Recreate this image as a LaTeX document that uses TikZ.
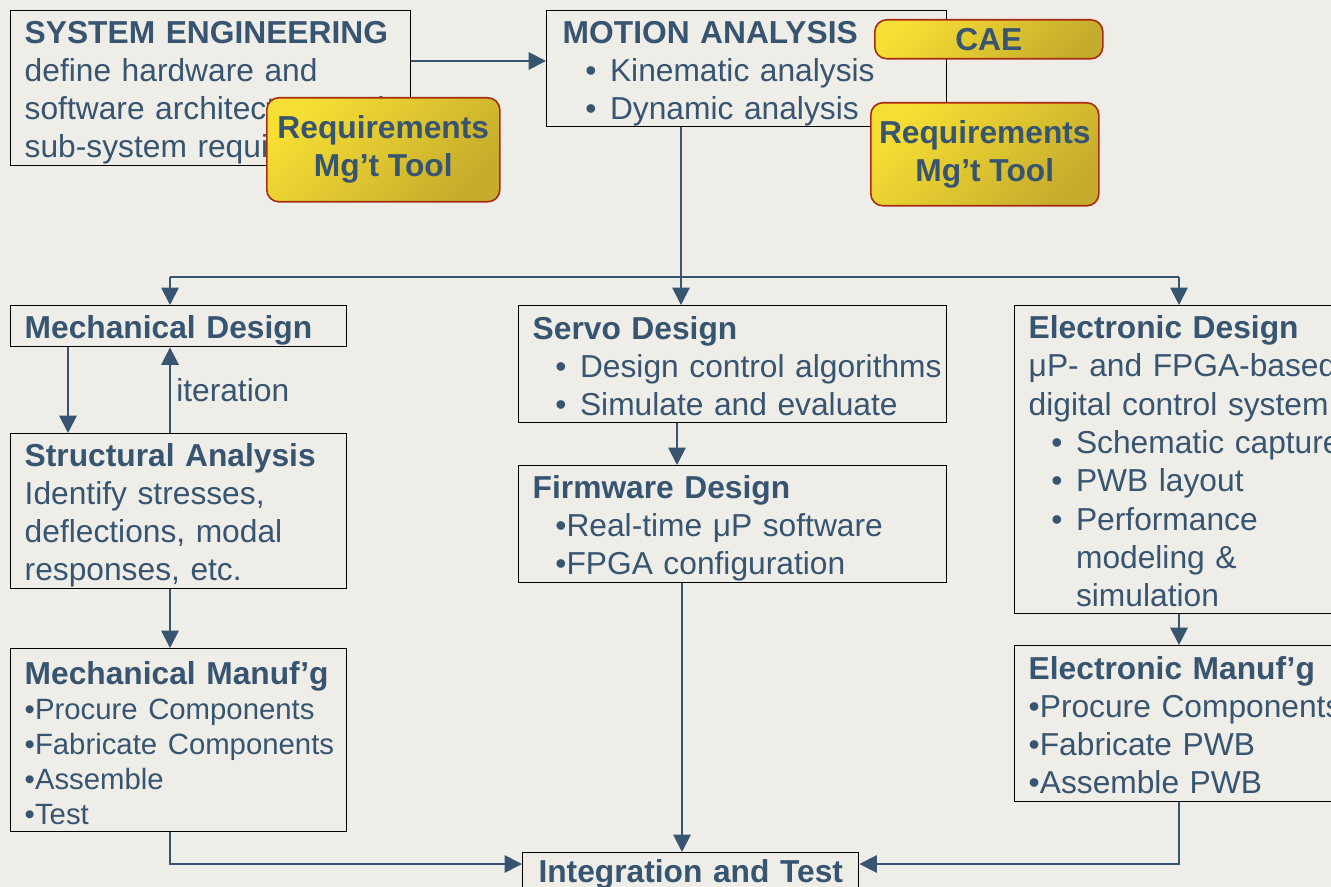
\documentclass[tikz,border=0pt]{standalone}
\usepackage{fontspec}
\setmainfont{Liberation Sans}
\usetikzlibrary{arrows.meta,calc}
\definecolor{paper}{RGB}{238,237,231}
\definecolor{ink}{RGB}{55,84,112}
\definecolor{toolA}{RGB}{246,222,52}
\definecolor{toolB}{RGB}{198,172,44}
\definecolor{toolrim}{RGB}{168,44,18}
\tikzset{box/.style={%
        draw=black,line width=1.1pt,
        anchor=north west,align=left,
        inner xsep=10.5pt,inner ysep=0pt,
        text=ink,font=\fontsize{23.8}{28.5}\selectfont}}
\tikzset{pad/.style={execute at begin node={\rule{0pt}{\dimexpr 17.5pt+#1\relax}}}}
\tikzset{tool/.style={%
        draw=toolrim,line width=1.2pt,rounded corners=9pt,
        anchor=north west,align=center,inner sep=0pt,
        top color=toolA,bottom color=toolB,shading angle=45,
        text=ink,font=\fontsize{23.8}{28.5}\selectfont\bfseries}}
\tikzset{link/.style={ink,line width=1.4pt}}
\tikzset{flow/.style={link,-{Triangle[length=13pt,width=13pt]}}}
\newcommand{\itm}{\hspace*{17pt}\makebox[18.5pt][l]{•}}

\begin{document}
\begin{tikzpicture}[x=0.75pt,y=-0.75pt]
  \useasboundingbox (0,0) rectangle (1331,887);
  \fill [paper] (0,0) rectangle (1331,887);
  \clip (0,0) rectangle (1331,887);

  \node [box,pad=6pt,text width=279pt,minimum height=116.25pt] (SE) at (10,10)
    {\textbf{SYSTEM ENGINEERING}\\define hardware and\\software architecture and\\sub-system requirements};
  \node [box,pad=6pt,inner xsep=12pt,text width=276pt,minimum height=87pt] (MA) at (546,10)
    {\textbf{MOTION ANALYSIS}\\\itm Kinematic analysis\\\itm Dynamic analysis};
  \node [box,pad=6pt,text width=231pt,minimum height=30.75pt] (MD) at (10,305)
    {\textbf{Mechanical Design}};
  \node [box,pad=6pt,text width=231pt,minimum height=116.25pt] (SA) at (10,433)
    {\textbf{Structural Analysis}\\Identify stresses,\\deflections, modal\\responses, etc.};
  \node [box,pad=3.5pt,text width=231pt,minimum height=137.25pt] (MM) at (10,648)
    {\textbf{Mechanical Manuf’g}\\\fontsize{22}{26.25}\selectfont
     \mbox{•Procure Components}\\\mbox{•Fabricate Components}\\•Assemble\\•Test\par};
  \node [box,pad=2.5pt,text width=300pt,minimum height=87.75pt] (SD) at (518,305)
    {\textbf{Servo Design}\\\mbox{\itm Design control algorithms}\\\itm Simulate and evaluate};
  \node [box,pad=6pt,text width=300pt,minimum height=87.75pt] (FD) at (518,465)
    {\textbf{Firmware Design}\\\hspace*{17pt}•Real-time μP software\\\hspace*{17pt}•FPGA configuration};
  \node [box,pad=5pt,align=center,text width=231pt,minimum height=27pt] (IT) at (522,852)
    {\textbf{Integration and Test}};
  \node [box,pad=2pt,text width=264pt,minimum height=231pt,
         font=\fontsize{23.8}{28.75}\selectfont] (ED) at (1014,305)
    {\textbf{Electronic Design}\\μP- and FPGA-based\\digital control system\\\itm Schematic capture\\\itm PWB layout\\\itm Performance\\\hspace*{35.5pt}modeling \&\\\hspace*{35.5pt}simulation};
  \node [box,pad=1.5pt,text width=264pt,minimum height=117pt] (EM) at (1014,645)
    {\textbf{Electronic Manuf’g}\\•Procure Components\\•Fabricate PWB\\•Assemble PWB};

  % routing points
  \coordinate (hub) at (681,277);
  \coordinate (tapL) at (170,277);
  \coordinate (tapR) at (1179,277);
  \coordinate (colA) at (68,0);
  \coordinate (colB) at (170,0);
  \coordinate (colS) at (677,0);
  \coordinate (colF) at (682,0);
  \coordinate (rowA) at (0,61);
  \coordinate (rowI) at (0,864);

  \draw [flow] (SE.east |- rowA) -- (MA.west |- rowA);
  \draw [link] (MA.south -| hub) -- (hub);
  \draw [link] (tapL) -- (tapR);
  \draw [flow] (tapL) -- (tapL |- MD.north);
  \draw [flow] (hub) -- (hub |- SD.north);
  \draw [flow] (tapR) -- (tapR |- ED.north);
  \draw [flow] (MD.south -| colA) -- (SA.north -| colA);
  \draw [flow] (SA.north -| colB) -- node [right,inner sep=4pt,text=ink,
      font=\fontsize{23.8}{28.5}\selectfont] (iter) {iteration} (MD.south -| colB);
  \draw [flow] (SA.south -| colB) -- (MM.north -| colB);
  \draw [flow] (SD.south -| colS) -- (FD.north -| colS);
  \draw [flow] (FD.south -| colF) -- (IT.north -| colF);
  \draw [flow] (ED.south -| tapR) -- (EM.north -| tapR);
  \draw [flow] (MM.south -| colB) |- (IT.west |- rowI);
  \draw [flow] (EM.south -| tapR) |- (IT.east |- rowI);

  \node [tool,minimum width=171pt,minimum height=29.25pt] (CAE) at (874,19) {CAE};
  \node [tool,minimum width=174.75pt,minimum height=78pt] (REQa) at (266,97) {Requirements\\Mg’t Tool};
  \node [tool,minimum width=171pt,minimum height=77.25pt] (REQb) at (870,102) {Requirements\\Mg’t Tool};
\end{tikzpicture}
\end{document}
